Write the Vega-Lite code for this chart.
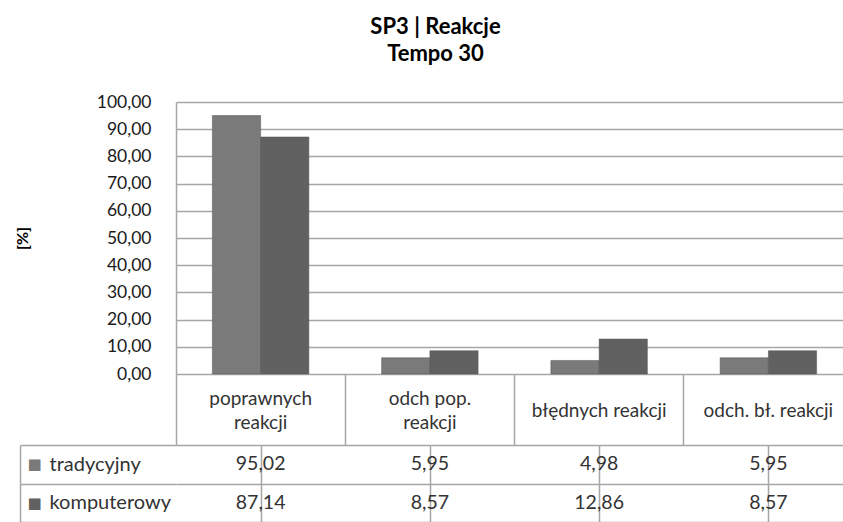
{
  "$schema": "https://vega.github.io/schema/vega-lite/v6.json",
  "padding": {"left": 14, "top": 16, "right": 0, "bottom": 0},
  "background": "white",
  "config": {
    "font": "Lato",
    "view": {"stroke": null},
    "locale": {"number": {"decimal": ",", "thousands": "\u00a0", "grouping": [3], "currency": ["", " zł"]}},
    "axis": {"labelFont": "Lato", "titleFont": "Lato"}
  },
  "title": {
    "text": ["SP3 | Reakcje", "Tempo 30"],
    "anchor": "middle",
    "frame": "group",
    "dx": -74,
    "font": "Lato",
    "fontSize": 22,
    "fontWeight": "bold",
    "color": "#000000",
    "lineHeight": 27,
    "offset": 27
  },
  "data": {
    "values": [
      {"cat": "poprawnych reakcji", "series": "tradycyjny", "value": 95.02},
      {"cat": "poprawnych reakcji", "series": "komputerowy", "value": 87.14},
      {"cat": "odch pop. reakcji", "series": "tradycyjny", "value": 5.95},
      {"cat": "odch pop. reakcji", "series": "komputerowy", "value": 8.57},
      {"cat": "błędnych reakcji", "series": "tradycyjny", "value": 4.98},
      {"cat": "błędnych reakcji", "series": "komputerowy", "value": 12.86},
      {"cat": "odch. bł. reakcji", "series": "tradycyjny", "value": 5.95},
      {"cat": "odch. bł. reakcji", "series": "komputerowy", "value": 8.57}
    ]
  },
  "bounds": "flush",
  "spacing": 71,
  "vconcat": [
    {
      "width": 667,
      "height": 272,
      "mark": {"type": "bar", "stroke": "#555555", "strokeWidth": 0.5},
      "encoding": {
        "x": {
          "field": "cat",
          "type": "nominal",
          "sort": null,
          "scale": {"range": [0, 677], "paddingInner": 0, "paddingOuter": 0},
          "axis": {
            "title": null,
            "orient": "bottom",
            "bandPosition": 0,
            "tickSize": 71,
            "tickColor": "#a6a6a6",
            "tickWidth": 1.5,
            "domain": false,
            "labelAngle": 0,
            "labelPadding": {"condition": {"test": "datum.value == 'poprawnych reakcji' || datum.value == 'odch pop. reakcji'", "value": -47}, "value": -35},
            "labelBaseline": "middle",
            "labelAlign": "center",
            "labelFontSize": 19,
            "labelColor": "#333333",
            "labelLineHeight": 24,
            "labelOverlap": false,
            "labelLimit": 0,
            "labelExpr": "datum.value == 'poprawnych reakcji' ? ['poprawnych', 'reakcji'] : datum.value == 'odch pop. reakcji' ? ['odch pop.', 'reakcji'] : datum.label"
          }
        },
        "xOffset": {
          "field": "series",
          "type": "nominal",
          "sort": ["tradycyjny", "komputerowy"],
          "scale": {"paddingInner": 0, "paddingOuter": 0.754}
        },
        "y": {
          "field": "value",
          "type": "quantitative",
          "scale": {"domain": [0, 100], "nice": false},
          "axis": {
            "title": "[%]",
            "titleFontSize": 16,
            "titleFontWeight": "bold",
            "titleColor": "#000000",
            "titlePadding": 66,
            "values": [0, 10, 20, 30, 40, 50, 60, 70, 80, 90, 100],
            "format": ".2f",
            "grid": true,
            "gridColor": "#a6a6a6",
            "gridWidth": 1.5,
            "domain": true,
            "domainColor": "#a6a6a6",
            "domainWidth": 1.5,
            "ticks": false,
            "labelPadding": 25,
            "labelFontSize": 17.5,
            "labelColor": "#1a1a1a"
          }
        },
        "color": {
          "field": "series",
          "type": "nominal",
          "sort": ["tradycyjny", "komputerowy"],
          "scale": {"domain": ["tradycyjny", "komputerowy"], "range": ["#7a7a7a", "#616161"]},
          "legend": null
        }
      }
    },
    {
      "width": 667,
      "height": 77,
      "resolve": {"axis": {"y": "independent"}},
      "layer": [
        {
          "mark": {"type": "text", "fontSize": 19.5, "color": "#333333", "baseline": "middle", "align": "center"},
          "encoding": {
            "x": {
              "field": "cat",
              "type": "nominal",
              "sort": null,
              "scale": {"range": [0, 677], "paddingInner": 0, "paddingOuter": 0},
              "axis": {
                "title": null,
                "grid": true,
                "bandPosition": 0,
                "gridColor": "#a6a6a6",
                "gridWidth": 1.5,
                "ticks": false,
                "labels": false,
                "domain": false
              }
            },
            "y": {
              "field": "series",
              "type": "nominal",
              "sort": ["tradycyjny", "komputerowy"],
              "scale": {"paddingInner": 0, "paddingOuter": 0},
              "axis": {
                "title": null,
                "orient": "left",
                "tickBand": "extent",
                "grid": true,
                "gridColor": "#a6a6a6",
                "gridWidth": 1.5,
                "ticks": true,
                "tickSize": 156,
                "tickColor": "#a6a6a6",
                "tickWidth": 1.5,
                "domain": false,
                "labelAlign": "left",
                "labelBaseline": "middle",
                "labelPadding": -29,
                "labelFontSize": 20,
                "labelColor": "#333333"
              }
            },
            "text": {"field": "value", "type": "quantitative", "format": ".2f"}
          }
        },
        {
          "mark": {"type": "text", "opacity": 0},
          "encoding": {
            "y": {
              "field": "series",
              "type": "nominal",
              "sort": ["tradycyjny", "komputerowy"],
              "axis": {
                "title": null,
                "orient": "left",
                "offset": 156,
                "grid": false,
                "ticks": false,
                "domain": true,
                "domainColor": "#a6a6a6",
                "domainWidth": 1.5,
                "labelExpr": "'■'",
                "labelFont": "DejaVu Sans",
                "labelFontSize": 15,
                "labelAlign": "left",
                "labelBaseline": "middle",
                "labelPadding": -7,
                "labelColor": {"condition": {"test": "datum.value === 'tradycyjny'", "value": "#7a7a7a"}, "value": "#616161"}
              }
            }
          }
        }
      ]
    }
  ]
}
